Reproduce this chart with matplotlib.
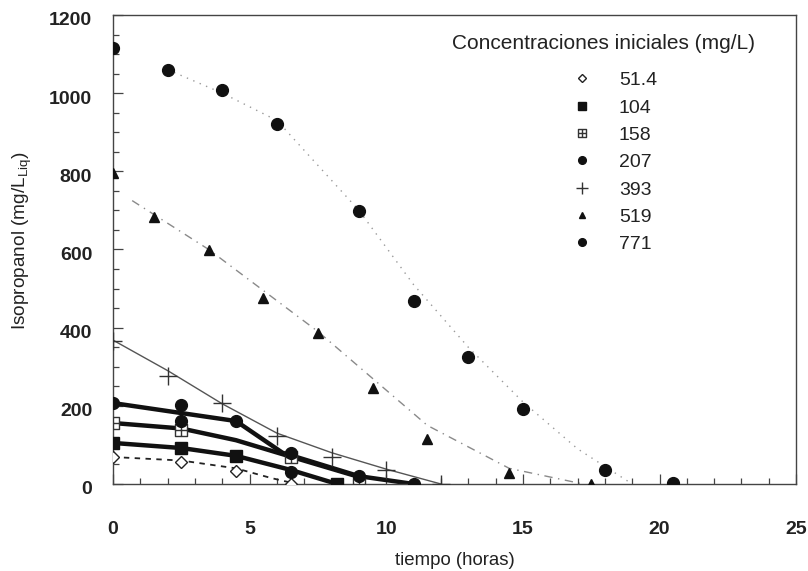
import numpy as np
import matplotlib
matplotlib.use('Agg')
import matplotlib.pyplot as plt
from matplotlib.path import Path
from matplotlib.ticker import MultipleLocator
import matplotlib.transforms as mtransforms

plt.rcParams['font.family'] = ['Liberation Sans', 'DejaVu Sans']

# ---------------- data ----------------
labels = ['51.4', '104', '158', '207', '393', '519', '771']

# measured points (tiempo en horas, isopropanol mg/L)
t_514 = [0, 2.5, 4.5, 6.5]
v_514 = [69, 56, 33, 0]

t_104 = [0, 2.5, 4.5, 8.2]
v_104 = [105, 92, 72, 0]

t_158 = [0, 2.5, 6.5, 9]
v_158 = [156, 138, 69, 0]

t_207 = [0, 2.5, 2.5, 4.5, 6.5, 6.5, 9, 11]
v_207 = [207, 202, 161, 161, 79, 31, 20, 0]

t_393 = [0, 2, 4, 6, 8, 10, 12]
v_393 = [365, 276, 207, 122, 69, 36, 0]

t_519 = [0, 1.5, 3.5, 5.5, 7.5, 9.5, 11.5, 14.5, 17.5]
v_519 = [795, 683, 598, 476, 386, 246, 115, 28, 0]

t_771 = [0, 2, 4, 6, 9, 11, 13, 15, 18, 20.5]
v_771 = [1115, 1059, 1008, 921, 698, 468, 325, 192, 36, 3]

# model curves drawn through the data
fit_t_514 = [0, 2.5, 4.5, 5.8, 6.6]
fit_v_514 = [69, 60, 40, 15, 2]

fit_t_104 = [0, 2.5, 4.5, 6.5, 8.2]
fit_v_104 = [105, 92, 72, 36, 0]

fit_t_158 = [0, 2.5, 4.5, 6.5, 9]
fit_v_158 = [156, 142, 112, 70, 18]

fit_t_207 = [0, 4.5, 6.2, 9, 11]
fit_v_207 = [207, 161, 80, 20, 0]

fit_t_393 = [0, 2, 4, 6, 8, 10, 12]
fit_v_393 = [368, 290, 205, 130, 80, 38, 0]

fit_t_519 = [0.7, 3.5, 7.5, 11.5, 14.5, 17.2]
fit_v_519 = [725, 600, 390, 150, 40, 0]

fit_t_771 = [2, 4, 6, 9, 11, 13, 15, 17, 19]
fit_v_771 = [1060, 1000, 930, 700, 510, 350, 210, 90, 0]

# ----------------------------------------------------------

# square with a cross inside (158)
sq_cross = Path([(-1, -1), (1, -1), (1, 1), (-1, 1), (-1, -1),
                 (-1, 0), (1, 0), (0, -1), (0, 1)],
                [Path.MOVETO, Path.LINETO, Path.LINETO, Path.LINETO, Path.CLOSEPOLY,
                 Path.MOVETO, Path.LINETO, Path.MOVETO, Path.LINETO])

fig = plt.figure(figsize=(8.08, 5.71), dpi=100)
ax = fig.add_axes([0.1399, 0.1524, 0.8454, 0.8214])

# lines
ax.plot(fit_t_771, fit_v_771, color='#9a9a9a', lw=1.0, ls=(0, (1, 4)), zorder=1)
ax.plot(fit_t_519, fit_v_519, color='#8a8a8a', lw=1.0, ls=(0, (6, 4, 1, 4)), zorder=1)
ax.plot(fit_t_393, fit_v_393, color='#555555', lw=1.0, zorder=1)
ax.plot(fit_t_514, fit_v_514, color='#222222', lw=1.3, ls=(0, (3, 3)), zorder=2)
ax.plot(fit_t_104, fit_v_104, color='#111111', lw=3.2, zorder=2)
ax.plot(fit_t_158, fit_v_158, color='#111111', lw=3.2, zorder=2)
ax.plot(fit_t_207, fit_v_207, color='#111111', lw=3.2, zorder=2)

# markers
mk = dict(ls='none', zorder=3)
h1, = ax.plot(t_514, v_514, marker='D', ms=6, mfc='white', mec='#222222', mew=1.0, **mk)
h2, = ax.plot(t_104, v_104, marker='s', ms=8, mfc='#111111', mec='#111111', **mk)
h3, = ax.plot(t_158, v_158, marker=sq_cross, ms=8, mfc='white', mec='#333333', mew=1.0, **mk)
h4, = ax.plot(t_207, v_207, marker='o', ms=8.5, mfc='#111111', mec='#111111', **mk)
h5, = ax.plot(t_393, v_393, marker='+', ms=13, mec='#333333', mew=1.0, **mk)
h6, = ax.plot(t_519, v_519, marker='^', ms=7.5, mfc='#111111', mec='#111111', **mk)
h7, = ax.plot(t_771, v_771, marker='o', ms=8.5, mfc='#111111', mec='#111111', **mk)

ax.set_xlim(0, 25)
ax.set_ylim(0, 1200)
ax.xaxis.set_major_locator(MultipleLocator(5))
ax.xaxis.set_minor_locator(MultipleLocator(1))
ax.yaxis.set_major_locator(MultipleLocator(200))
ax.yaxis.set_minor_locator(MultipleLocator(50))
ax.tick_params(which='both', direction='in', color='#444444', width=0.9)
ax.tick_params(which='major', length=7)
ax.tick_params(which='minor', length=4)
ax.tick_params(axis='x', which='major', pad=27)
ax.tick_params(axis='y', which='major', pad=15)
for s in ax.spines.values():
    s.set_color('#444444')
    s.set_linewidth(1.0)

for lab in ax.get_xticklabels() + ax.get_yticklabels():
    lab.set_fontweight('bold')
    lab.set_fontsize(14)
    lab.set_color('#222222')
off = mtransforms.ScaledTranslation(0, -4 / 100, fig.dpi_scale_trans)
for lab in ax.get_yticklabels():
    lab.set_transform(lab.get_transform() + off)

ax.set_xlabel('tiempo (horas)', fontsize=13.4, color='#222222', labelpad=10)
ax.set_ylabel('Isopropanol (mg/L$_{\\mathregular{Liq}}$)', fontsize=13.7, color='#222222')
ax.yaxis.set_label_coords(-0.116, 0.52)

ax.text(0.496, 0.96, 'Concentraciones iniciales (mg/L)', transform=ax.transAxes,
        fontsize=15, color='#222222', va='top', ha='left')
ax.legend([h1, h2, h3, h4, h5, h6, h7], labels, loc='upper left',
          bbox_to_anchor=(0.655, 0.90), frameon=False, fontsize=14,
          handlelength=1.2, handletextpad=1.3, labelspacing=0.5,
          borderpad=0, markerscale=0.65, labelcolor='#222222')

fig.savefig('out.png', dpi=100)
